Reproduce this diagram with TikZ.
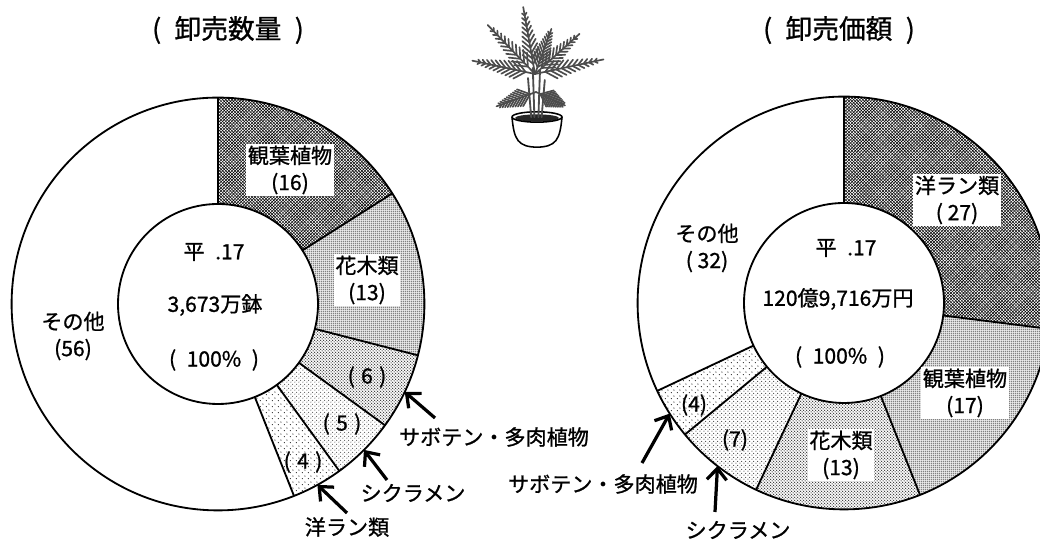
\documentclass[tikz,border=0pt]{standalone}
\usepackage{fontspec}
\setmainfont{Noto Sans CJK JP}[FakeBold=1.0]
\usetikzlibrary{arrows.meta, calc, patterns}

% fill textures of the ring sectors
\pgfdeclarepatternformonly{pcross}{\pgfqpoint{-0.5pt}{-0.5pt}}{\pgfqpoint{2.7pt}{2.7pt}}{\pgfqpoint{2.2pt}{2.2pt}}{%
  \pgfsetlinewidth{0.35pt}
  \pgfpathmoveto{\pgfqpoint{0pt}{0pt}}\pgfpathlineto{\pgfqpoint{2.2pt}{2.2pt}}
  \pgfpathmoveto{\pgfqpoint{0pt}{2.2pt}}\pgfpathlineto{\pgfqpoint{2.2pt}{0pt}}
  \pgfusepath{stroke}}
\pgfdeclarepatternformonly{pdots}{\pgfpointorigin}{\pgfqpoint{1.6pt}{1.6pt}}{\pgfqpoint{1.6pt}{1.6pt}}{%
  \pgfpathcircle{\pgfqpoint{0.8pt}{0.8pt}}{0.58pt}\pgfusepath{fill}}
\pgfdeclarepatternformonly{pmid}{\pgfpointorigin}{\pgfqpoint{2.4pt}{2.4pt}}{\pgfqpoint{2.4pt}{2.4pt}}{%
  \pgfpathcircle{\pgfqpoint{0.6pt}{0.6pt}}{0.46pt}
  \pgfpathcircle{\pgfqpoint{1.8pt}{1.8pt}}{0.46pt}\pgfusepath{fill}}
\pgfdeclarepatternformonly{plight}{\pgfpointorigin}{\pgfqpoint{3pt}{3pt}}{\pgfqpoint{3pt}{3pt}}{%
  \pgfpathcircle{\pgfqpoint{0.75pt}{0.75pt}}{0.42pt}
  \pgfpathcircle{\pgfqpoint{2.25pt}{2.25pt}}{0.42pt}\pgfusepath{fill}}
\pgfdeclarepatternformonly{psparse}{\pgfpointorigin}{\pgfqpoint{4pt}{4pt}}{\pgfqpoint{4pt}{4pt}}{%
  \pgfpathcircle{\pgfqpoint{1pt}{1pt}}{0.42pt}
  \pgfpathcircle{\pgfqpoint{3pt}{3pt}}{0.42pt}\pgfusepath{fill}}

\newcommand{\outR}{5.16}
\newcommand{\inR}{2.5}
% one palm frond: base, angle, length
\newcommand{\frond}[3]{%
  \draw[leaf] (#1) -- ++(#2:#3);
  \foreach \t in {0.15,0.23,...,0.95}
    \draw[leaf] ($(#1)+(#2:{\t*#3})$) -- ++({#2+40}:{0.36*(1.12-\t)})
                ($(#1)+(#2:{\t*#3})$) -- ++({#2-40}:{0.36*(1.12-\t)});
}

\tikzset{
  ring/.style={draw, line width=1.3pt},
  lbl/.style={font=\fontsize{15pt}{19pt}\selectfont, align=center, inner sep=1pt},
  boxlbl/.style={lbl, fill=white},
  ttl/.style={font=\fontsize{19pt}{23pt}\selectfont},
  callout/.style={-{Straight Barb[length=8pt,width=14pt]}, line width=2.3pt},
  leaf/.style={line width=1.2pt, black!70, line cap=round}
}

\begin{document}
\begin{tikzpicture}
  \useasboundingbox (0,0) rectangle (26,13.55);
  \coordinate (lc) at (5.45, 5.95);
  \coordinate (rc) at (21.1, 5.975);

  % Titles
  \node[ttl] (ttlvol) at (5.7, 12.8) {(\hspace{0.5em}卸売数量\hspace{0.5em})};
  \node[ttl] (ttlval) at (20.975, 12.8) {(\hspace{0.5em}卸売価額\hspace{0.5em})};

  % Left ring: volume
  \foreach \a/\b/\p in {90/32.4/pcross, 32.4/-14.4/pdots, -14.4/-36/pmid, -36/-54/plight, -54/-68.4/psparse}
    \fill[pattern=\p] ([shift={(\a:\outR)}]lc) arc[start angle=\a, end angle=\b, radius=\outR]
      -- ([shift={(\b:\inR)}]lc) arc[start angle=\b, end angle=\a, radius=\inR] -- cycle;
  \foreach \a in {90, 32.4, -14.4, -36, -54, -68.4}
    \draw[ring] ([shift={(\a:\inR)}]lc) -- ([shift={(\a:\outR)}]lc);
  \draw[ring] (lc) circle (\outR) (lc) circle (\inR);

  \node[boxlbl] (lkan) at (7.25, 9.3) {観葉植物\\(16)};
  \node[boxlbl] (lkaboku) at (9.175, 6.55) {花木類\\(13)};
  \node[lbl] (lsabv) at (9.175, 4.125) {(\hspace{0.3em}6\hspace{0.3em})};
  \node[lbl] (lshikv) at (8.55, 2.95) {(\hspace{0.3em}5\hspace{0.3em})};
  \node[lbl] (lyoranv) at (7.575, 2.0) {(\hspace{0.3em}4\hspace{0.3em})};
  \node[lbl] (lsonota) at (1.825, 5.15) {その他\\(56)};
  \node[lbl] (lyear) at (5.35, 7.25) {平\enspace.17};
  \node[lbl] (ltotal) at (5.375, 5.925) {3,673万鉢};
  \node[lbl] (lpct) at (5.35, 4.55) {(\enspace100\%\enspace)};

  % Left callouts
  \node[lbl] (lsab) at (12.35, 2.625) {サボテン・多肉植物};
  \node[lbl] (lshik) at (10.325, 1.225) {シクラメン};
  \node[lbl] (lyoran) at (8.675, 0.375) {洋ラン類};
  \coordinate (lsabtail) at (10.875, 3.1);
  \coordinate (lshiktail) at (9.675, 1.55);
  \coordinate (lyorantail) at (8.675, 0.725);
  \coordinate (lsabtip) at ([shift={(-25.2:\outR)}]lc);
  \coordinate (lshiktip) at ([shift={(-45:\outR)}]lc);
  \coordinate (lyorantip) at ([shift={(-61.2:\outR)}]lc);
  \draw[callout] (lsabtail) -- (lsabtip);
  \draw[callout] (lshiktail) -- (lshiktip);
  \draw[callout] (lyorantail) -- (lyorantip);

  % Right ring: value
  \foreach \a/\b/\p in {90/-7.2/pcross, -7.2/-68.4/pdots, -68.4/-115.2/pmid, -115.2/-140.4/plight, -140.4/-154.8/psparse}
    \fill[pattern=\p] ([shift={(\a:\outR)}]rc) arc[start angle=\a, end angle=\b, radius=\outR]
      -- ([shift={(\b:\inR)}]rc) arc[start angle=\b, end angle=\a, radius=\inR] -- cycle;
  \foreach \a in {90, -7.2, -68.4, -115.2, -140.4, -154.8}
    \draw[ring] ([shift={(\a:\inR)}]rc) -- ([shift={(\a:\outR)}]rc);
  \draw[ring] (rc) circle (\outR) (rc) circle (\inR);

  \node[boxlbl] (ryoran) at (23.925, 8.55) {洋ラン類\\( 27)};
  \node[boxlbl] (rkan) at (24.125, 3.725) {観葉植物\\(17)};
  \node[boxlbl] (rkaboku) at (21.025, 2.175) {花木類\\(13)};
  \node[lbl] (rshikv) at (18.375, 2.55) {(7)};
  \node[lbl] (rsabv) at (17.35, 3.425) {(4)};
  \node[lbl] (rsonota) at (17.675, 7.35) {その他\\( 32)};
  \node[lbl] (ryear) at (21.15, 7.35) {平\enspace.17};
  \node[lbl] (rtotal) at (20.95, 6.075) {120億9,716万円};
  \node[lbl] (rpct) at (21.0, 4.625) {(\enspace100\%\enspace)};

  % Right callouts
  \node[lbl] (rsab) at (15.075, 1.45) {サボテン・多肉植物};
  \node[lbl] (rshik) at (18.45, 0.3) {シクラメン};
  \coordinate (rsabtail) at (16.05, 1.975);
  \coordinate (rshiktail) at (17.875, 0.75);
  \coordinate (rsabtip) at ([shift={(-147.6:\outR)}]rc);
  \coordinate (rshiktip) at ([shift={(-127.8:\outR)}]rc);
  \draw[callout] (rsabtail) -- (rsabtip);
  \draw[callout] (rshiktail) -- (rshiktip);

  % Potted palm
  \coordinate (crown) at (13.375, 11.7);
  \coordinate (lowcrown) at (13.4, 11.25);
  \draw[line width=1.1pt, fill=white] (12.8, 10.625) .. controls (12.85, 10.05) and (12.95, 9.88) .. (13.425, 9.87)
    .. controls (13.9, 9.88) and (14.0, 10.05) .. (14.05, 10.625);
  \fill[black!85] (13.425, 10.6) ellipse (0.55 and 0.09);
  \draw[line width=1.1pt] (13.425, 10.625) ellipse (0.625 and 0.13);
  \foreach \x/\tx/\ty in {13.28/13.2/11.6, 13.36/13.32/11.85, 13.46/13.5/11.8, 13.54/13.62/11.55}
    \draw[leaf, line width=1.3pt] (\x, 10.62) -- (\tx, \ty);
  \frond{crown}{100}{1.7}
  \frond{crown}{134}{1.7}
  \frond{crown}{168}{1.6}
  \frond{crown}{70}{1.2}
  \frond{crown}{42}{1.5}
  \frond{crown}{12}{1.75}
  \frond{lowcrown}{200}{1.05}
  \frond{lowcrown}{-25}{0.8}
\end{tikzpicture}
\end{document}
